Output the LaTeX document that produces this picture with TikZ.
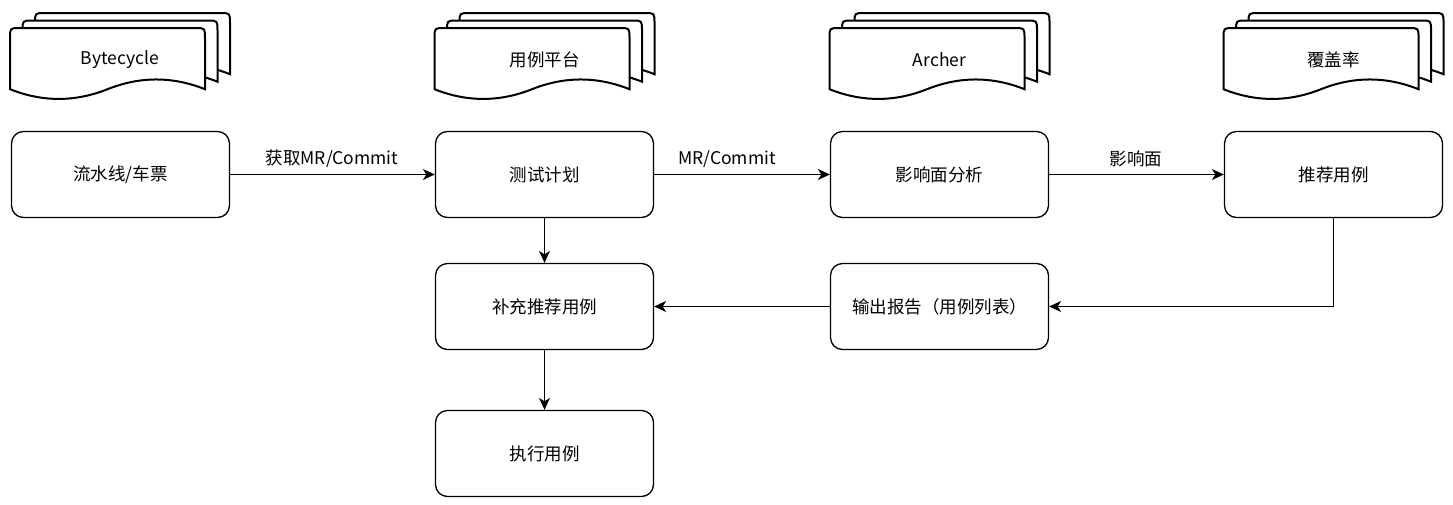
\documentclass[tikz,border=0pt]{standalone}
\usepackage{fontspec}
\setmainfont{Noto Sans CJK SC}
\usetikzlibrary{arrows.meta}
\tikzset{
  box/.style={draw=black, line width=1.3pt, rounded corners=12pt, fill=white,
    minimum width=218pt, minimum height=86pt, inner sep=0pt, font=\fontsize{17.5}{20}\selectfont},
  doc/.style={draw=black, line width=2pt, fill=white},
  doclabel/.style={inner sep=0pt, font=\fontsize{17.5}{20}\selectfont},
  elabel/.style={inner sep=0pt, font=\fontsize{17.5}{20}\selectfont},
  arr/.style={draw=black, line width=1.3pt, -{Stealth[length=12pt,width=11pt,inset=3.5pt]}},
}
\newcommand\onedoc[2]{%
  \begin{scope}[shift={(#1,#2)}]
    \path[doc] (0,61.2) -- (0,10) .. controls (0,0) .. (10,0) -- (185,0)
      .. controls (195,0) .. (195,10) -- (195,61.2)
      .. controls (162.5,48.24) and (130,48.24) .. (97.5,61.2)
      .. controls (65,74.16) and (32.5,74.16) .. (0,61.2) -- cycle;
  \end{scope}}
\newcommand\multidoc[3]{%
  \onedoc{#1+25}{13}
  \onedoc{#1+12.5}{20.5}
  \onedoc{#1}{28}
  \node[doclabel] (#2) at (#1+110,60) {#3};}
\begin{document}
\begin{tikzpicture}[x=1pt,y=-1pt]
\useasboundingbox (0,0) rectangle (1453,504);
\fill[white] (0,0) rectangle (1453,504);

\multidoc{10}{d1}{Bytecycle}
\multidoc{434.5}{d2}{用例平台}
\multidoc{829.5}{d3}{Archer}
\multidoc{1223.5}{d4}{覆盖率}

\node[box] (b1) at (120.5,174.5) {流水线/车票};
\node[box] (b2) at (544.5,174.5) {测试计划};
\node[box] (b3) at (939.5,174.5) {影响面分析};
\node[box] (b4) at (1333.5,174.5) {推荐用例};
\node[box] (b5) at (544.5,306.5) {补充推荐用例};
\node[box] (b6) at (939.5,306.5) {输出报告（用例列表）};
\node[box] (b7) at (544.5,453.5) {执行用例};

\draw[arr] (b1) -- (b2);
\draw[arr] (b2) -- (b3);
\draw[arr] (b3) -- (b4);
\draw[arr] (b2) -- (b5);
\draw[arr] (b4.south) |- (b6.east);
\draw[arr] (b6) -- (b5);
\draw[arr] (b5) -- (b7);

\node[elabel] (l1) at (332,159) {获取MR/Commit};
\node[elabel] (l2) at (727,159) {MR/Commit};
\node[elabel] (l3) at (1136,159) {影响面};
\end{tikzpicture}
\end{document}
